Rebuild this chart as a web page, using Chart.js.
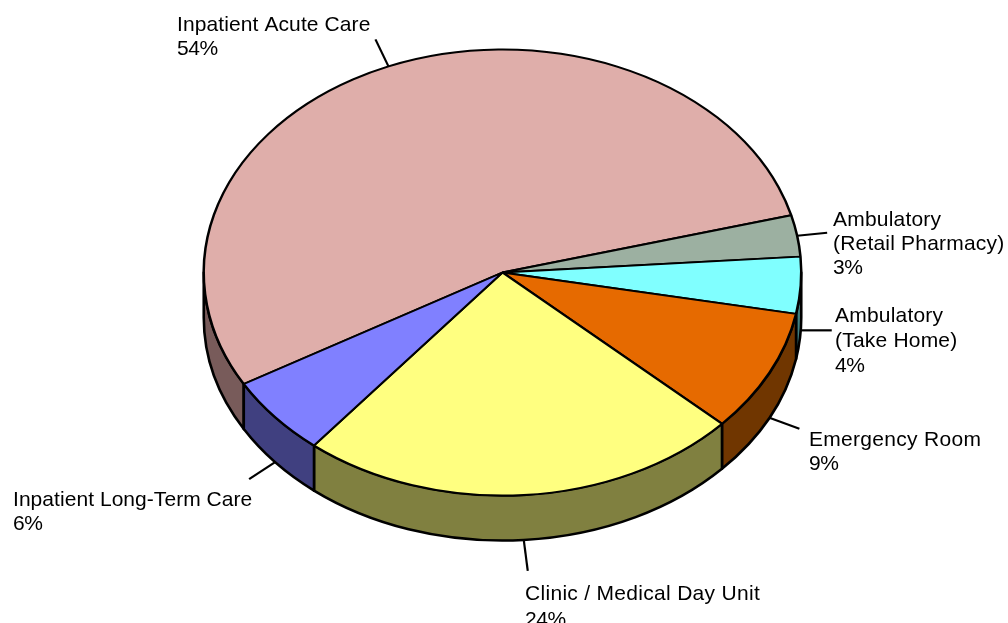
<!DOCTYPE html>
<html>
<head>
<meta charset="utf-8">
<style>html,body{margin:0;padding:0;background:#fff;overflow:hidden}#w{width:1008px;height:623px}canvas{display:block}</style>
<script src="https://cdn.jsdelivr.net/npm/chart.js@4"></script>
</head>
<body>
<div id="w"><canvas id="c" width="1008" height="623"></canvas></div>
<script>
const categories = ["Inpatient Acute Care","Ambulatory (Retail Pharmacy)","Ambulatory (Take Home)","Emergency Room","Clinic / Medical Day Unit","Inpatient Long-Term Care"];
const shares = [54.2,3.0,4.1,8.9,24.0,5.8];
const labelLines = [["Inpatient Acute Care"],["Ambulatory","(Retail Pharmacy)"],["Ambulatory","(Take Home)"],["Emergency Room"],["Clinic / Medical Day Unit"],["Inpatient Long-Term Care"]];
const topColors = ["#dfaeaa","#9cb0a1","#80ffff","#e66a00","#ffff80","#8080ff"];
const sideColors = ["#785b5a","#5a665d","#408080","#703600","#808040","#404080"];

// presentation geometry
const TILT = {cx:502.5, cy:272.5, k:0.7465, depth:45};
const LEADER = [[-13,-27],[30,-3],[31,0],[30,11],[4,31],[-26,17]];
const TEXT_POS = [[177,31],[833,226],[835,322],[809,446],[525,600],[13,506]];
const LINE_H = [24,24,25,24,26,24];
const TRACK = [0.1,0.2,0.2,0.3,0.3,0.05];

function rimPoint(arc,t){
  const ry = arc.outerRadius*TILT.k;
  const x = TILT.cx+Math.cos(t)*arc.outerRadius, y = TILT.cy+Math.sin(t)*ry;
  return [x, Math.sin(t)>0 ? y+TILT.depth : y];
}
const tilt3d = {
  id:'tilt3d',
  beforeDatasetsDraw(chart){
    const ctx = chart.ctx, arcs = chart.getDatasetMeta(0).data;
    const R = arcs[0].outerRadius, ry = R*TILT.k;
    ctx.save();
    ctx.lineWidth = 2.6; ctx.strokeStyle = '#000'; ctx.lineJoin = 'round';
    arcs.forEach((arc,i)=>{
      [-2*Math.PI,0,2*Math.PI].forEach(base=>{
        const a0 = Math.max(arc.startAngle,base), a1 = Math.min(arc.endAngle,base+Math.PI);
        if(a1<=a0) return;
        ctx.beginPath();
        ctx.ellipse(TILT.cx,TILT.cy,R,ry,0,a0,a1,false);
        ctx.ellipse(TILT.cx,TILT.cy+TILT.depth,R,ry,0,a1,a0,true);
        ctx.closePath();
        ctx.fillStyle = sideColors[i];
        ctx.fill(); ctx.stroke();
      });
    });
    ctx.restore();
    const a = arcs[0];
    ctx.save();
    ctx.translate(TILT.cx,TILT.cy);
    ctx.scale(1,TILT.k);
    ctx.translate(-a.x,-a.y);
  },
  afterDatasetsDraw(chart){
    const ctx = chart.ctx, arcs = chart.getDatasetMeta(0).data;
    ctx.restore();
    ctx.save();
    ctx.strokeStyle='#000'; ctx.lineWidth=2.2; ctx.fillStyle='#000';
    ctx.font='21px "Liberation Sans", Arial, sans-serif';
    ctx.textBaseline='alphabetic'; ctx.textAlign='left';
    arcs.forEach((arc,i)=>{
      const p = rimPoint(arc,(arc.startAngle+arc.endAngle)/2);
      ctx.beginPath(); ctx.moveTo(p[0],p[1]); ctx.lineTo(p[0]+LEADER[i][0],p[1]+LEADER[i][1]); ctx.stroke();
      ctx.letterSpacing = TRACK[i]+'px';
      labelLines[i].forEach((s,j)=>ctx.fillText(s,TEXT_POS[i][0],TEXT_POS[i][1]+j*LINE_H[i]));
      ctx.letterSpacing = '-0.4px';
      ctx.fillText(Math.round(shares[i])+'%',TEXT_POS[i][0],TEXT_POS[i][1]+labelLines[i].length*LINE_H[i]);
    });
    ctx.restore();
  }
};

new Chart(document.getElementById('c'),{
  type:'pie',
  data:{labels:categories,datasets:[{data:shares,backgroundColor:topColors,borderColor:'#000',borderWidth:2.5,borderAlign:'center',clip:false}]},
  options:{
    responsive:false,animation:false,rotation:-120,
    layout:{padding:{left:203,right:205,top:12,bottom:11}},
    plugins:{legend:{display:false},tooltip:{enabled:false},title:{display:false}}
  },
  plugins:[tilt3d]
});
</script>
</body>
</html>
